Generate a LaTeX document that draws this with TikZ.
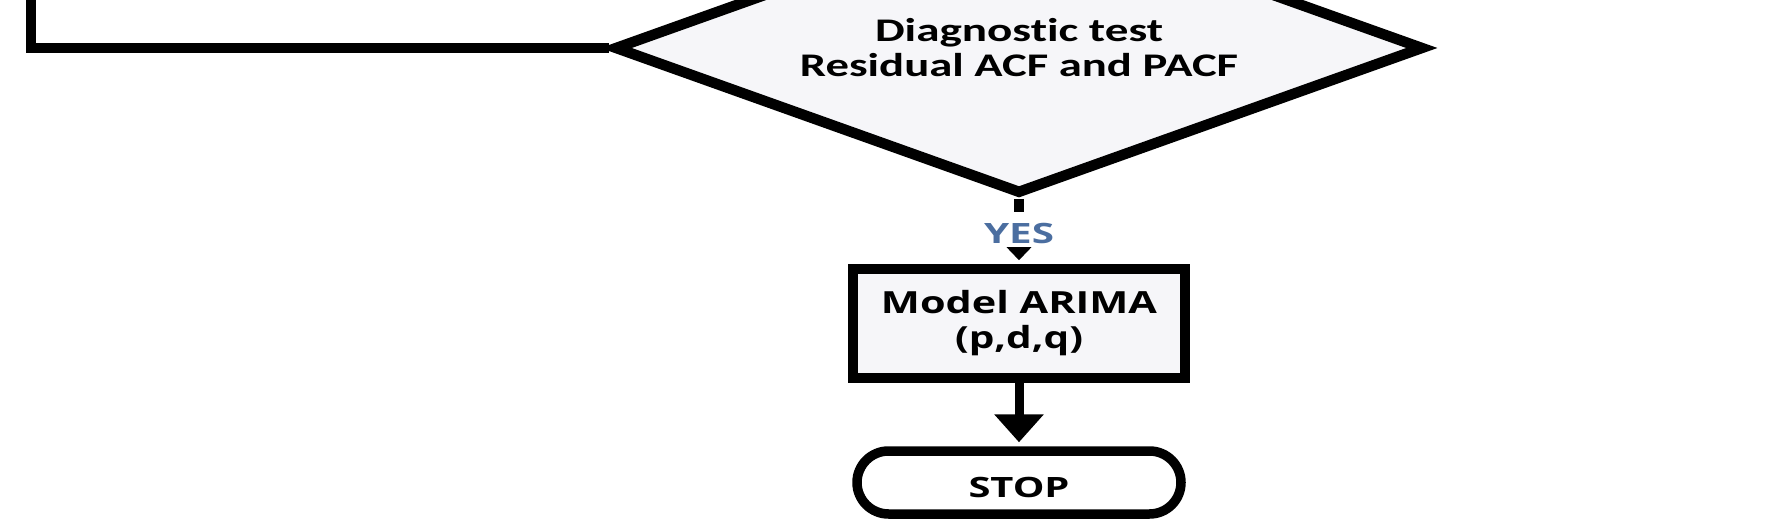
\documentclass[tikz,border=0pt]{standalone}
\usepackage{fontspec}
\usepackage{graphicx}
\usetikzlibrary{shapes.geometric,arrows.meta}
\newfontfamily\fcal{Carlito}[Ligatures=NoCommon]
\newfontfamily\fopen{Open Sans}
\definecolor{yesblue}{HTML}{4B6EA0}
\definecolor{shapefill}{HTML}{F6F6F9}
\newcommand{\wfit}[2]{\resizebox{#1}{\height}{#2}}

\begin{document}
\begin{tikzpicture}[x=1pt,y=-1pt,
  flowline/.style={line width=10.5pt, draw=black},
  decision/.style={diamond, aspect=2.79, draw=black, line width=10.5pt, fill=shapefill,
    minimum width=810pt, minimum height=292pt, inner sep=0pt, align=center,
    font=\fcal\bfseries\fontsize{33}{35}\selectfont},
  process/.style={rectangle, draw=black, line width=9.5pt, fill=shapefill,
    minimum width=332pt, minimum height=109pt, inner sep=0pt, align=center,
    font=\fopen\bfseries\fontsize{30.5}{35}\selectfont},
  terminal/.style={rectangle, rounded corners=31.5pt, draw=black, line width=9.5pt, fill=white,
    minimum width=324pt, minimum height=63pt, inner sep=0pt,
    font=\fopen\bfseries\fontsize{28}{30}\selectfont, text height=29pt, text depth=0pt},
  yeslabel/.style={inner sep=0pt, minimum height=41pt, text=yesblue,
    font=\fopen\bfseries\fontsize{28}{30}\selectfont, text height=22pt, text depth=0pt},
  smallarrow/.style={line width=9pt, draw=black, -{Triangle[width=24pt,length=13pt]}, shorten >=4pt},
  bigarrow/.style={line width=9pt, draw=black, -{Triangle[width=48pt,length=28pt]}, shorten >=4pt}
]
\useasboundingbox (0,0) rectangle (1786,529);

\node[decision] (dg) at (1019,48)
  {\wfit{288pt}{Diagnostic test}\\ \wfit{438pt}{Residual ACF and PACF}};

\coordinate (lc) at (31,48);
\coordinate (lt) at (31,-12);
\draw[flowline] (dg.west) -- (lc) -- (lt);

\node[yeslabel] (yes) at (1019,232.5) {\wfit{70pt}{YES}};
\node[process] (arima) at (1019,323.5) {\wfit{276pt}{Model ARIMA}\\ \wfit{128pt}{(p,d,q)}};
\node[terminal] (stop) at (1019,482.5) {\wfit{101pt}{STOP}};

\draw[flowline] (dg.south) -- (yes.north);
\draw[smallarrow] (yes.south) -- (arima.north);
\draw[bigarrow] (arima.south) -- (stop.north);
\end{tikzpicture}
\end{document}
